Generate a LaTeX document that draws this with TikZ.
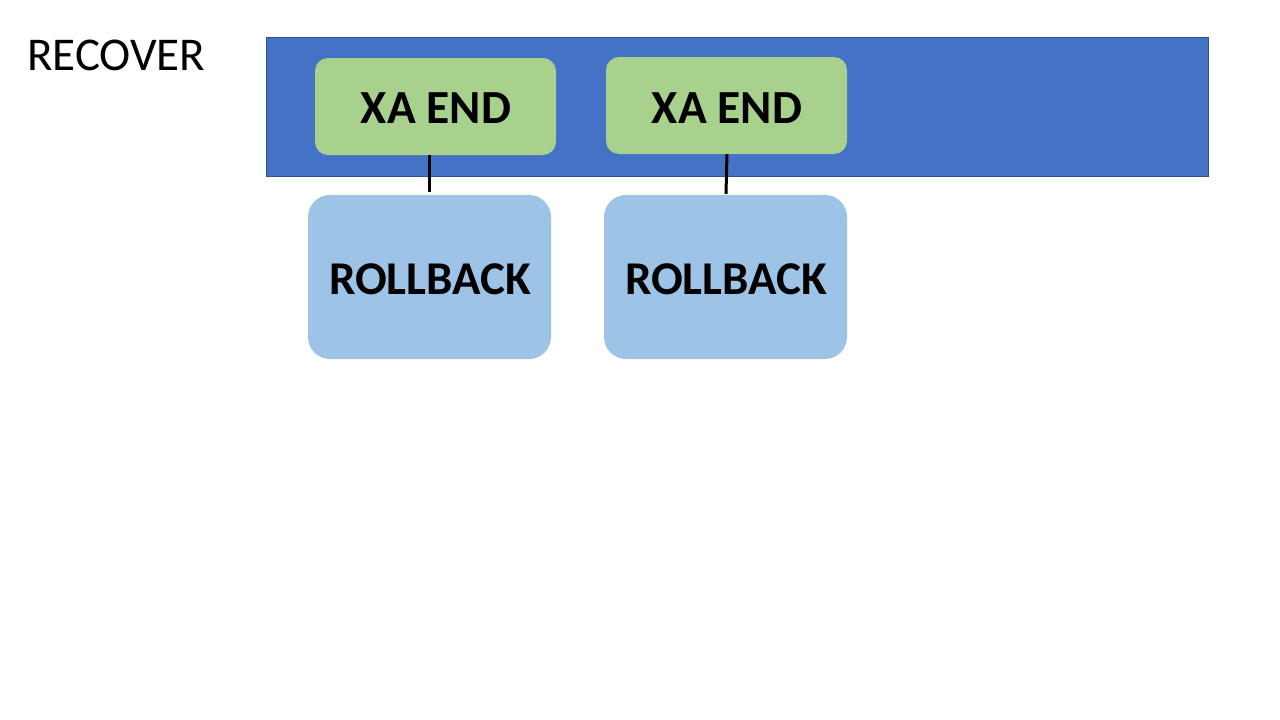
\documentclass[tikz,border=0pt]{standalone}
\usepackage{fontspec}
\setmainfont{Carlito}
\definecolor{bandblue}{HTML}{4472C4}
\definecolor{bandedge}{HTML}{2F528F}
\definecolor{xagreen}{HTML}{A9D18E}
\definecolor{rbblue}{HTML}{9DC3E6}
\tikzset{
  xabox/.style={fill=xagreen, rounded corners=13pt, inner sep=0pt, font=\fontsize{47.5}{52}\selectfont\bfseries},
  rbbox/.style={fill=rbblue, rounded corners=22pt, inner sep=0pt, font=\fontsize{47}{52}\selectfont\bfseries},
  link/.style={line width=3pt, black}
}
\begin{document}
\begin{tikzpicture}[x=1pt,y=-1pt]
\useasboundingbox (0,0) rectangle (1280,720);
\fill[white] (0,0) rectangle (1280,720);
\node[anchor=west, font=\fontsize{47}{52}\selectfont, inner sep=0pt] (title) at (27,55) {RECOVER};
\draw[fill=bandblue, draw=bandedge, line width=0.8pt] (266,37) rectangle (1208,176);
\node[xabox, minimum width=241pt, minimum height=97pt, text depth=0pt, text height=0pt] (xa1) at (435.5,106.5) {};
\node[xabox, minimum width=241pt, minimum height=97pt] (xa2) at (726.5,105.5) {};
\node[font=\fontsize{47.5}{52}\selectfont\bfseries, inner sep=0pt] (t1) at (436,108.5) {XA END};
\node[font=\fontsize{47.5}{52}\selectfont\bfseries, inner sep=0pt] (t2) at (727,108) {XA END};
\node[rbbox, minimum width=243pt, minimum height=164pt] (rb1) at (429.5,277) {};
\node[rbbox, minimum width=243pt, minimum height=164pt] (rb2) at (725.5,277) {};
\node[font=\fontsize{47}{52}\selectfont\bfseries, inner sep=0pt] (t3) at (430,279.5) {ROLLBACK};
\node[font=\fontsize{47}{52}\selectfont\bfseries, inner sep=0pt] (t4) at (726,279.5) {ROLLBACK};
\draw[link] ([xshift=-6.5pt]xa1.south) -- ([xshift=-0.5pt,yshift=3pt]rb1.north);
\draw[link] ([xshift=0.5pt]xa2.south) -- ([xshift=0.5pt,yshift=1pt]rb2.north);
\end{tikzpicture}
\end{document}
